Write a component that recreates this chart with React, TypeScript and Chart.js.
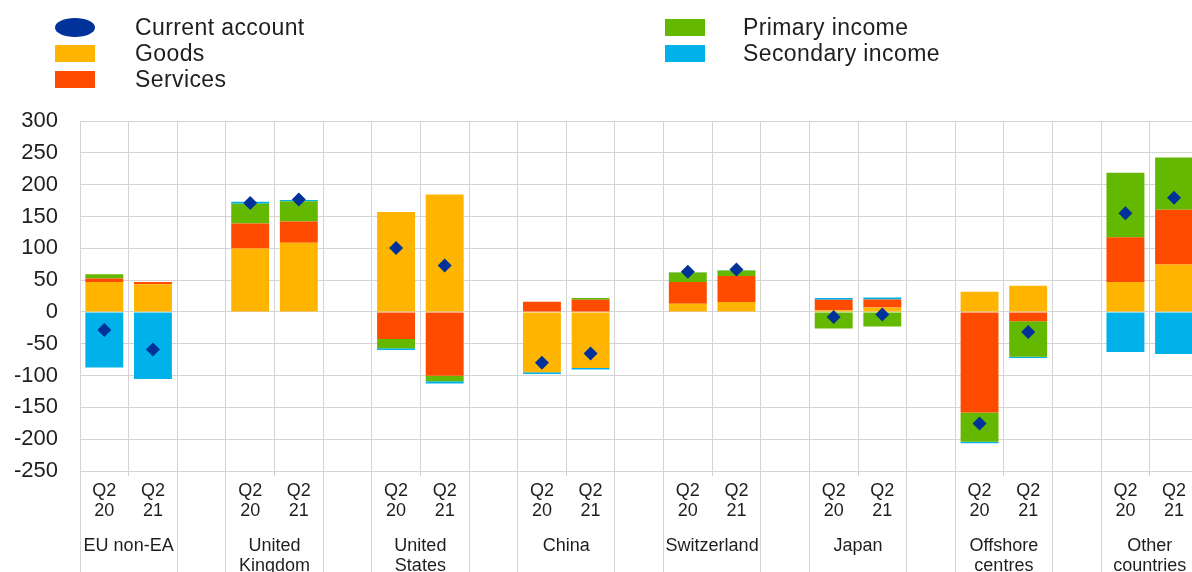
import React, { useEffect, useRef } from "react";
import { Chart, registerables } from "chart.js";

Chart.register(...registerables);

// ---- Data ----
const countries: string[][] = [
  ["EU non-EA"],
  ["United", "Kingdom"],
  ["United", "States"],
  ["China"],
  ["Switzerland"],
  ["Japan"],
  ["Offshore", "centres"],
  ["Other", "countries"],
];
const periods: string[][] = [
  ["Q2", "20"],
  ["Q2", "21"],
];
// two values per country: Q2 20, Q2 21
const goods = [47, 43.5, 99.5, 108.5, 157, 184.5, -95, -88, 13, 15.5, 2.5, 7, 31.5, 41, 47, 74.5];
const services = [5.5, 3.5, 39.5, 33.5, -42.5, -100.5, 16, 19, 34, 41, 16.5, 12.5, -158, -14.5, 70.5, 86];
const primaryIncome = [6.5, 0, 31, 32, -14.5, -8.5, 0, 3, 15, 8.5, -26, -23, -46, -56, 101, 82];
const secondaryIncome = [-87.5, -105.5, 3, 2, -3, -3.5, -2.5, -2.5, 0.5, 0.5, 3, 3, -2.5, -2, -63, -66];
const currentAccount = [-28.5, -59, 171, 176.5, 100.5, 73, -80, -65.5, 63, 66.5, -8, -4, -175.5, -31.5, 155, 179.5];

const yTicks = [-250, -200, -150, -100, -50, 0, 50, 100, 150, 200, 250, 300];

const COLORS = {
  ca: "#003299",
  goods: "#FFB400",
  services: "#FF4B00",
  primary: "#65B800",
  secondary: "#00B1EA",
};

const FONT = "'Liberation Sans', Arial, Helvetica, sans-serif";

// Build slot layout: for each country two periods + one empty spacer slot
const slotLabels: (string[] | string)[] = [];
countries.forEach(() => {
  periods.forEach((p) => slotLabels.push(p));
  slotLabels.push("");
});
const toSlots = (vals: number[]) => {
  const out: (number | null)[] = [];
  countries.forEach((_, c) => {
    out.push(vals[c * 2]);
    out.push(vals[c * 2 + 1]);
    out.push(null);
  });
  return out;
};

const legendItems = [
  { label: "Current account", color: COLORS.ca, shape: "ellipse", col: 0, row: 0 },
  { label: "Goods", color: COLORS.goods, shape: "box", col: 0, row: 1 },
  { label: "Services", color: COLORS.services, shape: "box", col: 0, row: 2 },
  { label: "Primary income", color: COLORS.primary, shape: "box", col: 1, row: 0 },
  { label: "Secondary income", color: COLORS.secondary, shape: "box", col: 1, row: 1 },
];

const dividerPlugin = {
  id: "dividers",
  afterDraw(chart: any) {
    const x = chart.scales.x;
    const ctx = chart.ctx;
    const w = x.getPixelForValue(1) - x.getPixelForValue(0);
    const top = chart.chartArea.bottom;
    const bottom = chart.height;
    ctx.save();
    ctx.strokeStyle = "#d4d4d4";
    ctx.lineWidth = 1;
    for (let i = 0; i <= slotLabels.length; i++) {
      if (i % 3 === 1) continue;
      const p = x.getPixelForValue(0) - w / 2 + i * w;
      const px = Math.round(p - 0.5) + 0.5;
      ctx.beginPath();
      ctx.moveTo(px, top);
      ctx.lineTo(px, bottom);
      ctx.stroke();
    }
    ctx.restore();
  },
};

export default function App() {
  const canvasRef = useRef<HTMLCanvasElement | null>(null);

  useEffect(() => {
    if (!canvasRef.current) return;
    const barDs = (label: string, data: number[], color: string) => ({
      type: "bar" as const,
      label,
      data: toSlots(data),
      backgroundColor: color,
      borderWidth: 0,
      barPercentage: 0.78,
      categoryPercentage: 1,
      stack: "bal",
      order: 1,
    });
    const chart = new Chart(canvasRef.current, {
      type: "bar",
      data: {
        labels: slotLabels as any,
        datasets: [
          {
            type: "line" as const,
            label: "Current account",
            data: toSlots(currentAccount),
            showLine: false,
            pointStyle: "rectRot",
            pointRadius: 7,
            pointHoverRadius: 7,
            pointBackgroundColor: COLORS.ca,
            pointBorderColor: COLORS.ca,
            pointBorderWidth: 0,
            borderColor: COLORS.ca,
            stack: "ca",
            order: 0,
          } as any,
          barDs("Goods", goods, COLORS.goods),
          barDs("Services", services, COLORS.services),
          barDs("Primary income", primaryIncome, COLORS.primary),
          barDs("Secondary income", secondaryIncome, COLORS.secondary),
        ],
      },
      plugins: [dividerPlugin],
      options: {
        responsive: false,
        animation: false,
        devicePixelRatio: 1,
        layout: { padding: { top: 121, left: 0, right: 0, bottom: 0 } },
        plugins: {
          legend: { display: false },
          tooltip: { enabled: false },
        },
        scales: {
          x: {
            type: "category",
            stacked: true,
            offset: true,
            border: { display: false },
            grid: {
              offset: true,
              color: "#d4d4d4",
              lineWidth: 1,
              drawTicks: true,
              tickLength: 5,
            },
            ticks: {
              autoSkip: false,
              maxRotation: 0,
              minRotation: 0,
              padding: 5,
              color: "#1e1e1e",
              font: { family: FONT, size: 18, lineHeight: 20 / 18 },
            },
            afterFit(scale: any) {
              scale.height = 60;
            },
          },
          x2: {
            type: "linear",
            position: "bottom",
            weight: 1,
            min: -0.5,
            max: slotLabels.length - 0.5,
            offset: false,
            border: { display: false },
            grid: { display: false, drawTicks: false },
            afterBuildTicks(scale: any) {
              scale.ticks = countries.map((_, c) => ({ value: c * 3 + 0.5 }));
            },
            ticks: {
              autoSkip: false,
              maxRotation: 0,
              minRotation: 0,
              padding: 5,
              color: "#1e1e1e",
              font: { family: FONT, size: 18, lineHeight: 20 / 18 },
              callback: (_v: any, i: number) => countries[i] as any,
            },
            afterFit(scale: any) {
              scale.height = 41;
            },
          },
          y: {
            stacked: true,
            min: -250,
            max: 300,
            border: { display: false },
            grid: { color: "#d4d4d4", lineWidth: 1, drawTicks: false },
            afterBuildTicks(scale: any) {
              scale.ticks = yTicks.map((v) => ({ value: v }));
            },
            ticks: {
              padding: 22,
              color: "#1e1e1e",
              font: { family: FONT, size: 22 },
              callback: (v: any) => String(v),
            },
            afterFit(scale: any) {
              scale.width = 80;
            },
          },
        },
      } as any,
    });
    return () => chart.destroy();
  }, []);

  const rowCenters = [27, 53, 79];
  const markerX = [55, 665];
  const textX = [135, 743];

  return (
    <div
      style={{
        position: "fixed",
        left: 0,
        top: 0,
        width: 1192,
        height: 572,
        overflow: "hidden",
        background: "#ffffff",
      }}
    >
      <canvas
        ref={canvasRef}
        width={1254}
        height={572}
        style={{ position: "absolute", left: 0, top: 0 }}
      />
      {legendItems.map((it) => {
        const cy = rowCenters[it.row];
        const h = it.shape === "ellipse" ? 19 : 17;
        return (
          <React.Fragment key={it.label}>
            <div
              style={{
                position: "absolute",
                left: markerX[it.col],
                top: cy - h / 2,
                width: 40,
                height: h,
                background: it.color,
                borderRadius: it.shape === "ellipse" ? "50%" : 0,
              }}
            />
            <div
              style={{
                position: "absolute",
                left: textX[it.col],
                top: cy - 13,
                height: 26,
                lineHeight: "26px",
                fontFamily: FONT,
                fontSize: 23,
                letterSpacing: "0.4px",
                color: "#1e1e1e",
                whiteSpace: "nowrap",
              }}
            >
              {it.label}
            </div>
          </React.Fragment>
        );
      })}
    </div>
  );
}
